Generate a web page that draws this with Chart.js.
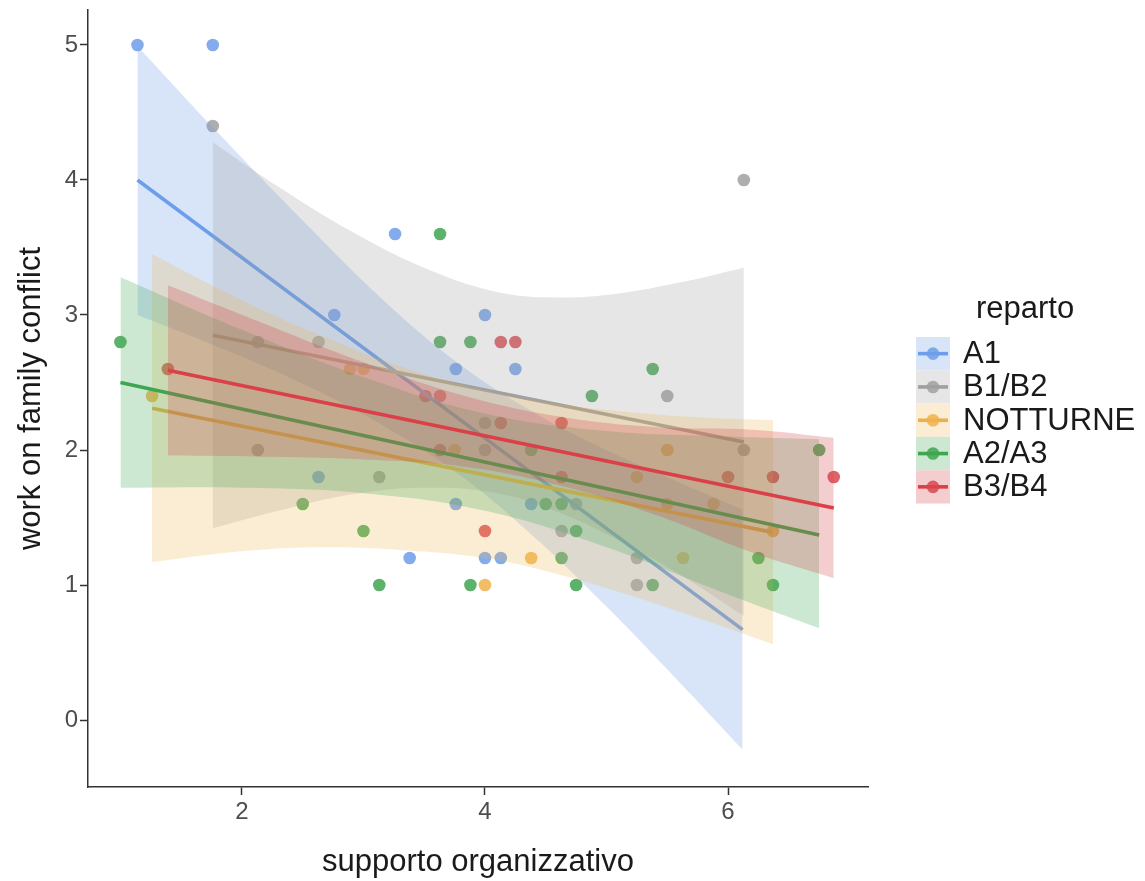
<!DOCTYPE html>
<html>
<head>
<meta charset="utf-8">
<script src="https://cdn.jsdelivr.net/npm/chart.js@4.4.1/dist/chart.umd.min.js"></script>
<style>
  html, body { margin: 0; padding: 0; background: #fff; }
</style>
</head>
<body>
<canvas id="chart" width="1145" height="881"></canvas>
<script>
// groups (legend order)
const groups = ['A1', 'B1/B2', 'NOTTURNE', 'A2/A3', 'B3/B4'];

// tick labels
const xTicks = [2, 4, 6];
const yTicks = [0, 1, 2, 3, 4, 5];

// raw points
const a1X = [1.14, 1.76, 3.26, 2.76, 4.0, 3.76, 4.25, 3.76, 3.38, 4.0, 4.13, 2.63, 4.38];
const a1Y = [5.0, 5.0, 3.6, 3.0, 3.0, 2.6, 2.6, 1.6, 1.2, 1.2, 1.2, 1.8, 1.6];

const b12X = [1.76, 6.13, 5.5, 6.13, 2.13, 2.63, 4.0, 2.13, 4.0, 3.13, 4.75, 4.63, 5.25, 5.25];
const b12Y = [4.4, 4.0, 2.4, 2.0, 2.8, 2.8, 2.2, 2.0, 2.0, 1.8, 1.6, 1.4, 1.2, 1.0];

const notX = [1.26, 2.89, 3.0, 3.75, 5.5, 5.25, 5.5, 5.88, 6.37, 4.38, 5.63, 4.0];
const notY = [2.4, 2.6, 2.6, 2.0, 2.0, 1.8, 1.6, 1.6, 1.4, 1.2, 1.2, 1.0];

const a23X = [1.0, 3.63, 3.63, 3.88, 5.38, 4.88, 4.38, 6.75, 2.5, 4.5, 4.63, 3.0, 4.75, 4.63, 6.25, 3.13, 3.88, 4.75, 5.38, 6.37];
const a23Y = [2.8, 3.6, 2.8, 2.8, 2.6, 2.4, 2.0, 2.0, 1.6, 1.6, 1.6, 1.4, 1.4, 1.2, 1.2, 1.0, 1.0, 1.0, 1.0, 1.0];

const b34X = [1.39, 4.13, 4.25, 3.51, 3.63, 4.13, 4.63, 3.63, 4.63, 6.0, 6.37, 6.87, 4.0];
const b34Y = [2.6, 2.8, 2.8, 2.4, 2.4, 2.2, 2.2, 2.0, 1.8, 1.8, 1.8, 1.8, 1.4];

// fitted lines (end points)
const a1FitX = [1.14, 6.12];   const a1FitY = [4.0, 0.67];
const b12FitX = [1.76, 6.13];  const b12FitY = [2.85, 2.06];
const notFitX = [1.26, 6.37];  const notFitY = [2.31, 1.39];
const a23FitX = [1.0, 6.75];   const a23FitY = [2.5, 1.37];
const b34FitX = [1.39, 6.87];  const b34FitY = [2.59, 1.57];

// confidence bands (upper / lower edges)
const a1BandX  = [1.14, 1.76, 2.5, 3.2, 3.8, 4.4, 5.0, 5.6, 6.12];
const a1BandUp = [4.99, 4.39, 3.70, 3.08, 2.63, 2.28, 2.00, 1.76, 1.56];
const a1BandLo = [3.00, 2.78, 2.49, 2.16, 1.81, 1.36, 0.84, 0.28, -0.22];

const b12BandX  = [1.76, 2.3, 2.9, 3.5, 4.1, 4.6, 5.1, 5.6, 6.13];
const b12BandUp = [4.28, 3.95, 3.62, 3.35, 3.17, 3.13, 3.16, 3.24, 3.35];
const b12BandLo = [1.42, 1.55, 1.67, 1.72, 1.68, 1.54, 1.33, 1.08, 0.77];

const notBandX  = [1.26, 2.0, 2.67, 3.3, 4.0, 4.6, 5.2, 5.8, 6.37];
const notBandUp = [3.45, 3.11, 2.84, 2.62, 2.44, 2.34, 2.28, 2.24, 2.22];
const notBandLo = [1.17, 1.25, 1.28, 1.26, 1.20, 1.08, 0.92, 0.74, 0.56];

const a23BandX  = [1.0, 2.0, 3.0, 4.0, 5.0, 6.0, 6.75];
const a23BandUp = [3.28, 2.89, 2.54, 2.27, 2.14, 2.10, 2.08];
const a23BandLo = [1.72, 1.72, 1.68, 1.55, 1.28, 0.93, 0.68];

const b34BandX  = [1.39, 2.2, 3.0, 3.8, 4.6, 5.4, 6.2, 6.87];
const b34BandUp = [3.22, 2.93, 2.65, 2.41, 2.25, 2.17, 2.15, 2.09];
const b34BandLo = [1.96, 1.95, 1.93, 1.88, 1.74, 1.52, 1.24, 1.05];

const pointColors = ['rgba(110,158,234,0.85)', 'rgba(160,160,160,0.85)', 'rgba(240,178,74,0.85)', 'rgba(64,164,80,0.85)', 'rgba(216,70,78,0.85)'];
const lineColors  = ['#6d9eeb', '#a0a0a0', '#ecb04c', '#3ea64e', '#db3f48'];
const bandColors  = ['rgba(110,158,234,0.27)', 'rgba(160,160,160,0.26)', 'rgba(240,178,74,0.24)', 'rgba(72,170,88,0.27)', 'rgba(216,70,78,0.27)'];

const pts   = [[a1X, a1Y], [b12X, b12Y], [notX, notY], [a23X, a23Y], [b34X, b34Y]];
const fits  = [[a1FitX, a1FitY], [b12FitX, b12FitY], [notFitX, notFitY], [a23FitX, a23FitY], [b34FitX, b34FitY]];
const bands = [[a1BandX, a1BandUp, a1BandLo], [b12BandX, b12BandUp, b12BandLo], [notBandX, notBandUp, notBandLo],
               [a23BandX, a23BandUp, a23BandLo], [b34BandX, b34BandUp, b34BandLo]];

const FONT = "'Liberation Sans', Arial, Helvetica, sans-serif";
const zip = (xs, ys) => xs.map((x, i) => ({ x: x, y: ys[i] }));

// build datasets in ggplot layer order: all points, then ribbon + line per group
const layers = [];
groups.forEach((g, i) => {
    layers.push({
        label: g, data: zip(pts[i][0], pts[i][1]), showLine: false,
        pointRadius: 6.3, pointBorderWidth: 0, pointBackgroundColor: pointColors[i]
    });
});
groups.forEach((g, i) => {
    const [bx, up, lo] = bands[i];
    layers.push({
        label: g + ' up', data: zip(bx, up), fill: '+1', backgroundColor: bandColors[i],
        borderColor: 'rgba(0,0,0,0)', borderWidth: 0, pointRadius: 0, tension: 0.4
    });
    layers.push({
        label: g + ' lo', data: zip(bx, lo), fill: false,
        borderColor: 'rgba(0,0,0,0)', borderWidth: 0, pointRadius: 0, tension: 0.4
    });
    layers.push({
        label: g + ' fit', data: zip(fits[i][0], fits[i][1]), fill: false,
        borderColor: lineColors[i], borderWidth: 3.6, pointRadius: 0, tension: 0
    });
});
// first layer drawn first: highest order
layers.forEach((d, k) => { d.order = layers.length - k; });

const legendPlugin = {
    id: 'ggLegend',
    afterDraw(chart) {
        const ctx = chart.ctx;
        ctx.save();
        ctx.fillStyle = '#1a1a1a';
        ctx.font = '31px ' + FONT;
        ctx.textBaseline = 'middle';
        ctx.textAlign = 'left';
        ctx.fillText('reparto', 976, 309);
        const kx = 916, kw = 34, kh = 33.3, ky = 337;
        groups.forEach((g, i) => {
            const y = ky + i * kh;
            ctx.fillStyle = '#fff';
            ctx.fillRect(kx, y, kw, kh);
            ctx.fillStyle = bandColors[i];
            ctx.fillRect(kx, y, kw, kh);
            const cy = y + kh / 2;
            ctx.strokeStyle = lineColors[i];
            ctx.lineWidth = 3.6;
            ctx.beginPath();
            ctx.moveTo(kx + 2, cy);
            ctx.lineTo(kx + kw - 2, cy);
            ctx.stroke();
            ctx.fillStyle = pointColors[i];
            ctx.beginPath();
            ctx.arc(kx + kw / 2, cy, 6.3, 0, Math.PI * 2);
            ctx.fill();
            ctx.fillStyle = '#1a1a1a';
            ctx.font = '31px ' + FONT;
            ctx.fillText(g, 963, cy + 1);
        });
        ctx.restore();
    }
};

new Chart(document.getElementById('chart').getContext('2d'), {
    type: 'line',
    data: { datasets: layers },
    plugins: [legendPlugin],
    options: {
        responsive: false,
        animation: false,
        layout: { padding: { left: 0, right: 277, top: 10, bottom: 0 } },
        plugins: { legend: { display: false }, tooltip: { enabled: false } },
        scales: {
            x: {
                type: 'linear', min: 0.733, max: 7.152,
                afterBuildTicks: s => { s.ticks = xTicks.map(v => ({ value: v })); },
                afterFit: s => { s.height = 94; s.paddingLeft = 0; s.paddingRight = 0; },
                ticks: { font: { size: 24, family: FONT }, color: '#4d4d4d', padding: 3, maxRotation: 0 },
                grid: { drawOnChartArea: false, color: '#333', tickLength: 8, tickWidth: 1.5 },
                border: { color: '#333', width: 1.5 },
                title: { display: true, text: 'supporto organizzativo', color: '#1a1a1a',
                         font: { size: 31, family: FONT }, padding: { top: 0, bottom: 0 } }
            },
            y: {
                type: 'linear', min: -0.496, max: 5.259,
                afterBuildTicks: s => { s.ticks = yTicks.map(v => ({ value: v })); },
                afterFit: s => { s.width = 88; s.paddingTop = 0; s.paddingBottom = 0; },
                ticks: { font: { size: 24, family: FONT }, color: '#4d4d4d', padding: 2 },
                grid: { drawOnChartArea: false, color: '#333', tickLength: 8, tickWidth: 1.5 },
                border: { color: '#333', width: 1.5 },
                title: { display: true, text: 'work on family conflict', color: '#1a1a1a',
                         font: { size: 31, family: FONT }, padding: { top: 13, bottom: 0 } }
            }
        }
    }
});
</script>
</body>
</html>
